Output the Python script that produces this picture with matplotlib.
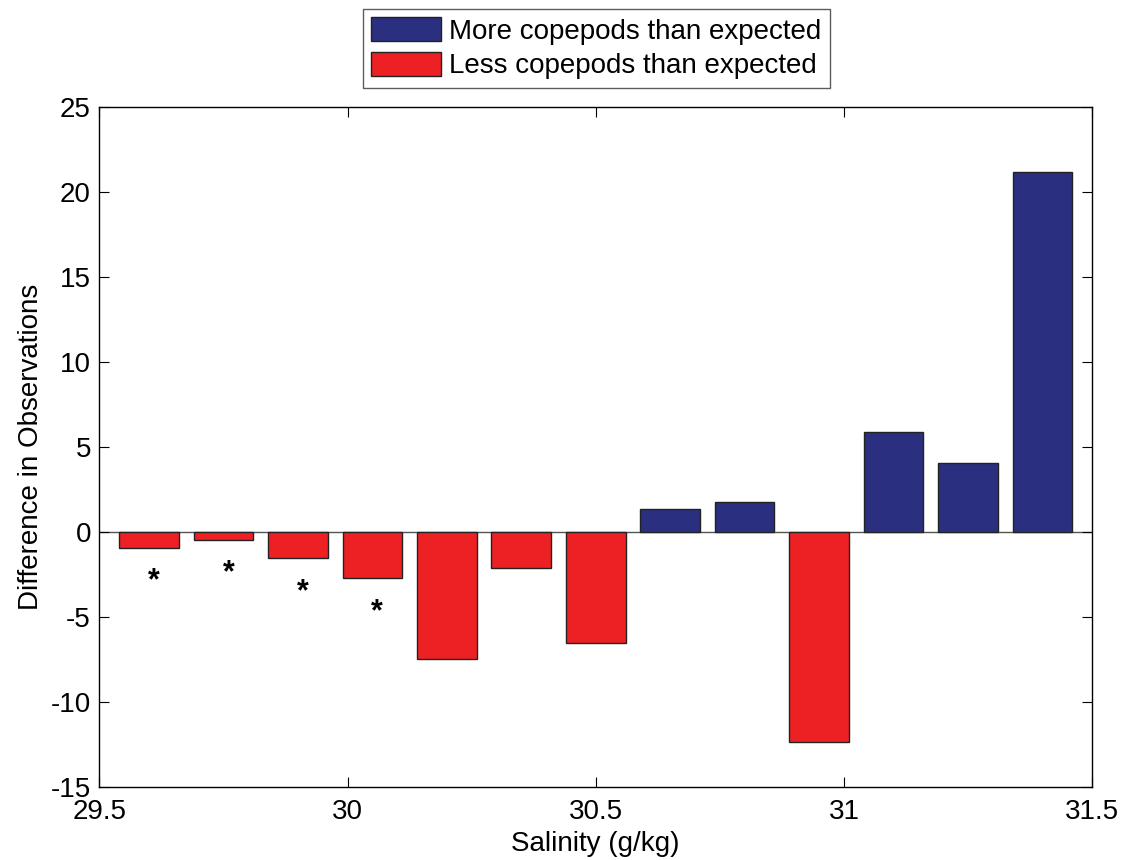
import numpy as np
import matplotlib.pyplot as plt

plt.rcParams["font.family"] = ["Liberation Sans", "DejaVu Sans"]
plt.rcParams["axes.unicode_minus"] = False

# bin centres (g/kg) and difference observed - expected
salinity = [29.6, 29.75, 29.9, 30.05, 30.2, 30.35, 30.5,
            30.65, 30.8, 30.95, 31.1, 31.25, 31.4]
difference = [-0.92, -0.45, -1.55, -2.71, -7.47, -2.12, -6.51,
              1.37, 1.76, -12.35, 5.90, 4.04, 21.2]
# bins flagged as significant
starred = [29.6, 29.75, 29.9, 30.05]

blue = "#2b2f80"
red = "#ed2024"
fs = 20

fig = plt.figure(figsize=(11.36, 8.6), dpi=100)
ax = fig.add_axes([0.0874, 0.0852, 0.874, 0.790])

sal = np.array(salinity)
diff = np.array(difference)
pos = diff > 0

ax.bar(sal[pos], diff[pos], width=0.12, color=blue, edgecolor="#222222",
       linewidth=1, label="More copepods than expected", zorder=2)
ax.bar(sal[~pos], diff[~pos], width=0.12, color=red, edgecolor="#222222",
       linewidth=1, label="Less copepods than expected", zorder=2)
ax.axhline(0, color="#555555", linewidth=1, zorder=1)

for s in starred:
    d = diff[sal == s][0]
    ax.text(s + 0.01, d - 2.0, "*", ha="center", va="center",
            fontsize=22, fontweight="bold")

ax.set_xlim(29.5, 31.5)
ax.set_ylim(-15, 25)
ax.set_xticks([29.5, 30, 30.5, 31, 31.5])
ax.set_xticklabels(["29.5", "30", "30.5", "31", "31.5"])
ax.set_yticks(range(-15, 30, 5))
ax.tick_params(direction="in", length=7, width=0.8, labelsize=fs,
               top=True, right=True, pad=6)
ax.tick_params(axis="x", pad=9)
for sp in ax.spines.values():
    sp.set_linewidth(1)

ax.set_xlabel("Salinity (g/kg)", fontsize=fs, labelpad=4)
ax.set_ylabel("Difference in Observations", fontsize=fs, labelpad=5)

leg = fig.legend(loc="upper center", bbox_to_anchor=(0.525, 0.9895),
                 fontsize=fs, frameon=True, fancybox=False,
                 handlelength=2.5, handleheight=0.95, handletextpad=0.3,
                 labelspacing=0.25, borderpad=0.3, borderaxespad=0)
leg.get_frame().set_edgecolor("#333333")
leg.get_frame().set_linewidth(1)

fig.savefig("out.png", dpi=100)
